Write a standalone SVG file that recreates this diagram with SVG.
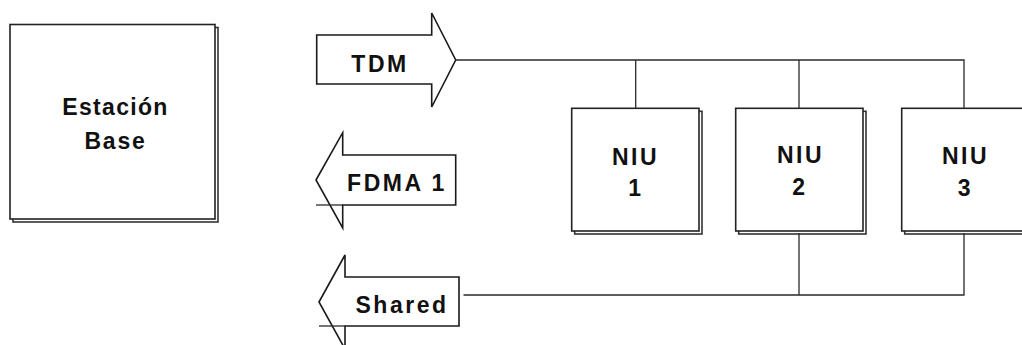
<svg xmlns="http://www.w3.org/2000/svg" width="1022" height="345" viewBox="0 0 1022 345">
  <style>
    .box { fill: #ffffff; stroke: #222222; stroke-width: 1.6; }
    .shadow { fill: none; stroke: #333333; stroke-width: 1.6; }
    .arrow { fill: #ffffff; stroke: #1a1a1a; stroke-width: 1.6; stroke-linejoin: miter; }
    .wire { fill: none; stroke: #2a2a2a; stroke-width: 1.3; }
    .label { font-family: "Liberation Sans", Arial, sans-serif; font-weight: bold; font-size: 23px; fill: #111111; text-anchor: middle; letter-spacing: 2.5px; }
  </style>

  <rect width="1022" height="345" fill="#ffffff"/>

  <!-- base station -->
  <g id="estacion-base">
    <rect class="shadow" x="13" y="27.5" width="205" height="194.5"/>
    <rect class="box" x="10" y="24.5" width="205" height="194.5"/>
    <text class="label" x="115.5" y="115" style="letter-spacing:1.3px">Estación</text>
    <text class="label" x="115.5" y="149" style="letter-spacing:1.8px">Base</text>
  </g>

  <!-- downstream TDM channel -->
  <g id="tdm">
    <polygon class="arrow" points="316.7,35 431.7,35 431.7,13 455.7,60 431.7,107 431.7,84 316.7,84"/>
    <text class="label" x="380" y="72">TDM</text>
  </g>

  <!-- upstream FDMA channel -->
  <g id="fdma1">
    <polygon class="arrow" points="316,180 342.7,132.7 342.7,155 455.7,155 455.7,205 342.7,205 342.7,228"/>
    <line class="wire" x1="316" y1="205" x2="342.7" y2="205"/>
    <text class="label" x="397" y="191">FDMA 1</text>
  </g>

  <!-- shared upstream channel -->
  <g id="shared">
    <polygon class="arrow" points="319,302 345,255 345,277 459,277 459,326 345,326 345,349"/>
    <line class="wire" x1="319" y1="326" x2="345" y2="326"/>
    <text class="label" x="402" y="313">Shared</text>
  </g>

  <!-- network interface units -->
  <g id="niu1">
    <rect class="shadow" x="574.7" y="111.3" width="127.3" height="122.7"/>
    <rect class="box" x="571.7" y="108.3" width="127.3" height="122.7"/>
    <text class="label" x="635.5" y="165">NIU</text>
    <text class="label" x="636" y="196">1</text>
  </g>

  <g id="niu2">
    <rect class="shadow" x="738.7" y="111.3" width="127.3" height="122.7"/>
    <rect class="box" x="735.7" y="108.3" width="127.3" height="122.7"/>
    <text class="label" x="800.5" y="163">NIU</text>
    <text class="label" x="800" y="195">2</text>
  </g>

  <g id="niu3">
    <rect class="shadow" x="904.7" y="111.3" width="127.3" height="122.7"/>
    <rect class="box" x="901.7" y="108.3" width="127.3" height="122.7"/>
    <text class="label" x="965.5" y="164">NIU</text>
    <text class="label" x="965.5" y="196">3</text>
  </g>

  <!-- bus connectors -->
  <g id="connectors">
    <polyline class="wire" points="455.7,60 964,60 964,108.3"/>
    <line class="wire" x1="635.7" y1="60" x2="635.7" y2="108.3"/>
    <line class="wire" x1="799" y1="60" x2="799" y2="108.3"/>
    <polyline class="wire" points="463.5,295 964,295 964,233"/>
    <line class="wire" x1="799" y1="233" x2="799" y2="295"/>
  </g>
</svg>
